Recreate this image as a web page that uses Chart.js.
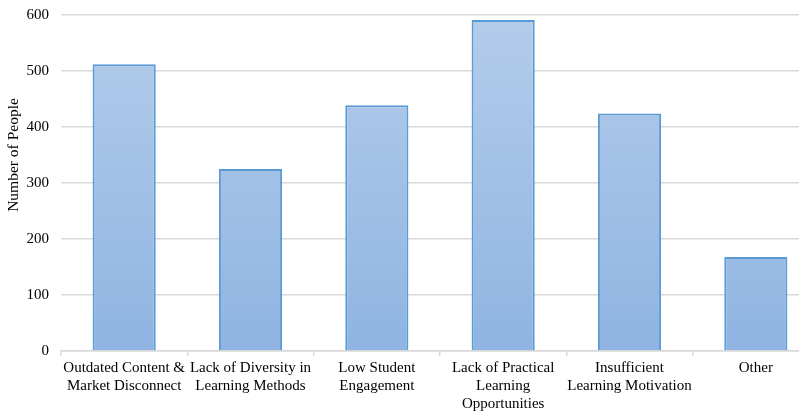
<!DOCTYPE html>
<html>
<head>
<meta charset="utf-8">
<script src="https://cdn.jsdelivr.net/npm/chart.js@4.4.1/dist/chart.umd.min.js"></script>
<style>
html,body{margin:0;padding:0;background:#fff;overflow:hidden;width:799px;height:415px;}
#wrap{position:absolute;left:0;top:0;width:820px;height:415px;}
</style>
</head>
<body>
<div id="wrap"><canvas id="c" width="820" height="415"></canvas></div>
<script>
const categories = [
  ["Outdated Content &", "Market Disconnect"],
  ["Lack of Diversity in", "Learning Methods"],
  ["Low Student", "Engagement"],
  ["Lack of Practical", "Learning", "Opportunities"],
  ["Insufficient", "Learning Motivation"],
  "Other"
];
const peopleCounts = [512, 325, 439, 591, 424, 168];
const yTicks = [0, 100, 200, 300, 400, 500, 600];
const yTitle = "Number of People";

const FONT = "'Liberation Serif', 'Times New Roman', serif";

function barGradient(ctx) {
  const chart = ctx.chart;
  const area = chart.chartArea;
  if (!area) return '#A6C3E6';
  const g = chart.ctx.createLinearGradient(0, area.top, 0, area.bottom);
  g.addColorStop(0, '#B4CCEA');
  g.addColorStop(1, '#8FB4E2');
  return g;
}

const titlePlugin = {
  id: 'yTitle',
  afterDraw(chart) {
    const c = chart.ctx;
    c.save();
    c.translate(14, 155);
    c.rotate(-Math.PI / 2);
    c.font = "15.5px " + FONT;
    c.fillStyle = '#000';
    c.textAlign = 'center';
    c.textBaseline = 'middle';
    c.fillText(yTitle, 0, 0);
    c.restore();
  }
};

new Chart(document.getElementById('c'), {
  type: 'bar',
  data: {
    labels: categories,
    datasets: [{
      data: peopleCounts,
      backgroundColor: barGradient,
      borderColor: '#5B9BD5',
      borderWidth: 2,
      barPercentage: 0.5,
      categoryPercentage: 1.0
    }]
  },
  plugins: [titlePlugin],
  options: {
    responsive: false,
    animation: false,
    layout: { padding: { top: 15, right: 1, left: 0, bottom: 0 } },
    plugins: { legend: { display: false }, tooltip: { enabled: false } },
    scales: {
      x: {
        grid: { display: true, drawOnChartArea: false, drawTicks: true, tickLength: 5, color: '#D9D9D9', lineWidth: 1.5, offset: true },
        border: { display: true, color: '#D9D9D9', width: 1.5 },
        ticks: { color: '#000', font: { family: FONT, size: 15 }, padding: 3, maxRotation: 0, autoSkip: false },
        afterFit(s) { s.height = 64; s.paddingLeft = 0; s.paddingRight = 0; }
      },
      y: {
        min: 0, max: 600,
        afterBuildTicks(s) { s.ticks = yTicks.map(v => ({ value: v })); },
        grid: { color: '#D9D9D9', lineWidth: 1.5, drawTicks: false },
        border: { display: false },
        ticks: { color: '#000', font: { family: FONT, size: 15 }, padding: 12 },
        afterFit(s) { s.width = 61; s.paddingTop = 0; s.paddingBottom = 0; }
      }
    }
  }
});
</script>
</body>
</html>
